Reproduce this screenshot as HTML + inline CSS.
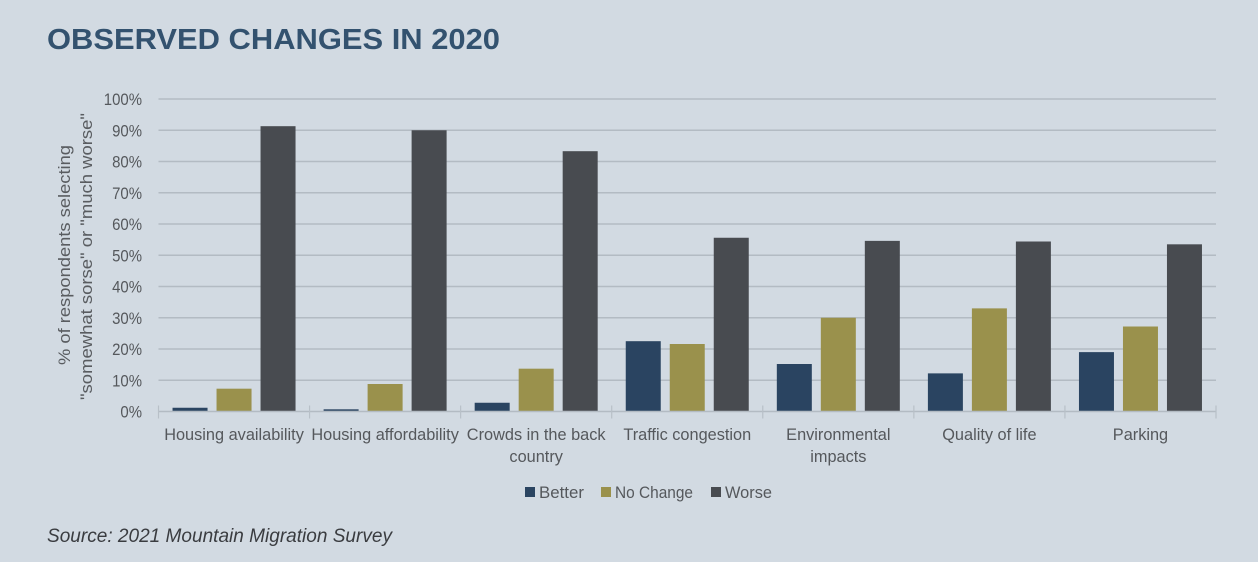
<!DOCTYPE html>
<html lang="en">
<head>
<meta charset="utf-8">
<title>Observed Changes in 2020</title>
<style>
html,body{margin:0;padding:0;background:#d2dae2;width:1258px;height:562px;overflow:hidden}
svg{display:block}
text{font-family:"Liberation Sans",sans-serif}
</style>
</head>
<body>
<svg id="chart" xmlns="http://www.w3.org/2000/svg" width="1258" height="562" viewBox="0 0 1258 562">
  <rect x="0" y="0" width="1258" height="562" fill="#d2dae2"/>
  <text x="47" y="49" font-size="29" font-weight="700" fill="#33526f" textLength="453" lengthAdjust="spacingAndGlyphs">OBSERVED CHANGES IN 2020</text>
  <g id="grid"></g>
  <g id="yticks"></g>
  <g id="bars"></g>
  <g id="xaxis"></g>
  <g font-size="17" fill="#595c60">
    <text transform="translate(70,255) rotate(-90)" text-anchor="middle" textLength="220" lengthAdjust="spacingAndGlyphs">% of respondents selecting</text>
    <text transform="translate(92,256.5) rotate(-90)" text-anchor="middle" textLength="287" lengthAdjust="spacingAndGlyphs">"somewhat sorse" or "much worse"</text>
  </g>
  <g font-size="16.5" fill="#55585c">
    <g>
      <rect x="525" y="487" width="10" height="10" fill="#2a4461"/>
      <text x="539" y="498" textLength="45" lengthAdjust="spacingAndGlyphs">Better</text>
    </g>
    <g>
      <rect x="601" y="487" width="10" height="10" fill="#9a914c"/>
      <text x="615" y="498" textLength="78" lengthAdjust="spacingAndGlyphs">No Change</text>
    </g>
    <g>
      <rect x="711" y="487" width="10" height="10" fill="#484b50"/>
      <text x="725" y="498" textLength="47" lengthAdjust="spacingAndGlyphs">Worse</text>
    </g>
  </g>
  <text x="47" y="542" font-size="19" font-style="italic" fill="#3a3c40" textLength="345" lengthAdjust="spacingAndGlyphs">Source: 2021 Mountain Migration Survey</text>
</svg>
<script>
const categories = [
  ["Housing availability"],
  ["Housing affordability"],
  ["Crowds in the back", "country"],
  ["Traffic congestion"],
  ["Environmental", "impacts"],
  ["Quality of life"],
  ["Parking"]
];
const better = [1.2, 0.7, 2.8, 22.5, 15.2, 12.2, 19];
const noChange = [7.3, 8.8, 13.7, 21.6, 30, 33, 27.2];
const worse = [91.3, 90, 83.3, 55.6, 54.6, 54.4, 53.5];
const yTicks = [0, 10, 20, 30, 40, 50, 60, 70, 80, 90, 100];

const NS = "http://www.w3.org/2000/svg";
const plot = { left: 158.5, right: 1216, top: 99, bottom: 411.5 };
const groupWidth = (plot.right - plot.left) / categories.length;
const barWidth = 35;
const barGap = 9;
const groupPad = (groupWidth - barWidth * 3 - barGap * 2) / 2;

function yScale(v) {
  return plot.bottom - (v / 100) * (plot.bottom - plot.top);
}
function xScale(groupIndex, seriesIndex) {
  return plot.left + groupIndex * groupWidth + groupPad + seriesIndex * (barWidth + barGap);
}
function make(tag, attrs) {
  const el = document.createElementNS(NS, tag);
  for (const k in attrs) el.setAttribute(k, attrs[k]);
  return el;
}

const gridG = document.getElementById("grid");
const yG = document.getElementById("yticks");
yTicks.forEach(function (t) {
  if (t > 0) {
    const line = make("line", { x1: plot.left, x2: plot.right, y1: yScale(t), y2: yScale(t), stroke: "#b3bbc3", "stroke-width": 1.4 });
    
    
    gridG.appendChild(line);
  }
  const label = make("text", { transform: "translate(142," + (yScale(t) + 6) + ") scale(0.88,1)", "text-anchor": "end", "font-size": 17, fill: "#55585c" });
  
  
  label.textContent = t + "%";
  yG.appendChild(label);
});

const seriesList = [
  { name: "better", values: better, color: "#2a4461" },
  { name: "no-change", values: noChange, color: "#9a914c" },
  { name: "worse", values: worse, color: "#484b50" }
];
const barsG = document.getElementById("bars");
seriesList.forEach(function (s, si) {
  s.values.forEach(function (v, gi) {
    const bar = make("rect", { x: xScale(gi, si), y: yScale(v), width: barWidth, height: plot.bottom - yScale(v), fill: s.color });
    
    
    barsG.appendChild(bar);
  });
});

const xG = document.getElementById("xaxis");
const axisLine = make("line", { x1: plot.left, x2: plot.right, y1: plot.bottom, y2: plot.bottom, stroke: "#b3bbc3", "stroke-width": 1.6 });


xG.appendChild(axisLine);
for (let i = 0; i <= categories.length; i++) {
  const x = plot.left + i * groupWidth;
  const tick = make("line", { x1: x, x2: x, y1: plot.bottom - 6, y2: plot.bottom + 7, stroke: "#b8c0c8", "stroke-width": 1.2 });
  
  
  xG.appendChild(tick);
}
categories.forEach(function (lines, gi) {
  lines.forEach(function (line, li) {
    const cx = plot.left + (gi + 0.5) * groupWidth;
    const label = make("text", { transform: "translate(" + cx + "," + (440 + li * 22) + ") scale(0.96,1)", "text-anchor": "middle", "font-size": 17, fill: "#55585c" });
    
    
    label.textContent = line;
    xG.appendChild(label);
  });
});
</script>
</body>
</html>
